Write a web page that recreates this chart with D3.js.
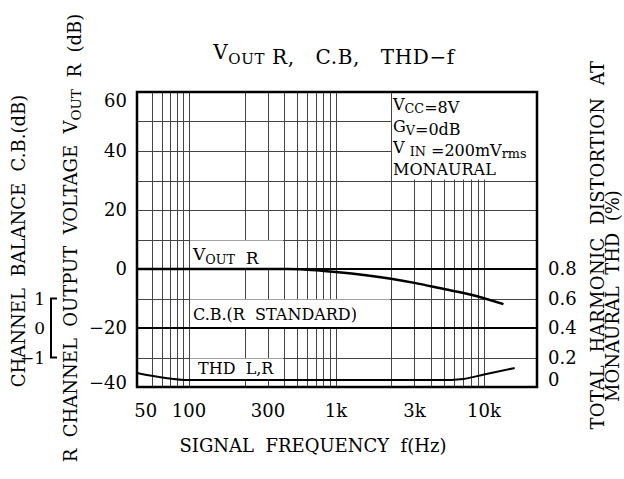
<!DOCTYPE html>
<html>
<head>
<meta charset="utf-8">
<script src="https://cdn.jsdelivr.net/npm/d3@7"></script>
<style>
  html, body { margin: 0; padding: 0; background: #fff; }
  svg text { font-family: "DejaVu Serif", serif; fill: #000; white-space: pre; }
</style>
</head>
<body>
<div id="chart"></div>
<script>
// values
const gridFreqs = [50, 60, 70, 80, 90, 100, 200, 300, 400, 500, 600, 700, 800, 900,
  1000, 2000, 3000, 4000, 5000, 6000, 7000, 8000, 9000, 10000];
const freqTicks = [50, 100, 300, 1000, 3000, 10000];
const freqTickLabels = ["50", "100", "300", "1k", "3k", "10k"];
const dbTicks = [60, 40, 20, 0, -20, -40];
const thdTicks = [0.8, 0.6, 0.4, 0.2, 0];
const cbTicks = [1, 0, -1];

const voutFreq = [38, 100, 200, 420, 700, 1000, 2000, 3000, 5000, 8000, 14000];
const voutDb = [0, 0, 0, 0, -0.4, -1, -3.3, -4.7, -6.8, -8.7, -11.9];

const cbFreq = [38, 25000];
const cbDb = [0, 0];

const thdFreq = [38, 100, 4600, 7000, 10000, 17000];
const thdPct = [0.095, 0.047, 0.047, 0.055, 0.085, 0.129];

const width = 624, height = 479;
const plotLeft = 137, plotRight = 537, plotTop = 92, plotBottom = 387;

const svg = d3.select("#chart").append("svg")
  .attr("width", width)
  .attr("height", height);

// the grid on the sheet is log per decade but the 1-2 steps are drawn wider
const x = d3.scaleLog()
  .domain([38, 100, 200, 1000, 2000, 10000, 25000])
  .range([plotLeft, 189, 245, 336, 391, 484, plotRight]);
const y = d3.scaleLinear().domain([-40, 60]).range([plotBottom, plotTop]);
const yThd = d3.scaleLinear().domain([0, 0.8]).range([plotBottom, y(0)]);
const yCb = d3.scaleLinear().domain([-1, 1]).range([y(-30), y(-10)]);

const grid = svg.append("g").attr("stroke", "#444").attr("stroke-width", 1);

grid.selectAll("line.v")
  .data(gridFreqs)
  .join("line")
  .attr("class", "v")
  .attr("x1", d => Math.round(x(d)) + 0.5).attr("x2", d => Math.round(x(d)) + 0.5)
  .attr("y1", plotTop).attr("y2", plotBottom);

grid.selectAll("line.h")
  .data(d3.range(-30, 60, 10))
  .join("line")
  .attr("class", "h")
  .attr("x1", plotLeft).attr("x2", plotRight)
  .attr("y1", d => Math.round(y(d)) + 0.5).attr("y2", d => Math.round(y(d)) + 0.5);

// blank areas that hold the condition box and the curve names
const blanks = [
  [x(2000) + 1, plotTop, plotRight, y(30) - 1],
  [x(100) + 1, y(10) + 1, x(400) - 1, y(0) - 1],
  [x(100) + 1, y(-10) + 1, x(2000) - 1, y(-20) - 1],
  [x(100) + 1, y(-30) + 1, x(400) - 1, y(-37.5)]
];
svg.append("g").selectAll("rect")
  .data(blanks)
  .join("rect")
  .attr("x", d => d[0]).attr("y", d => d[1])
  .attr("width", d => d[2] - d[0]).attr("height", d => d[3] - d[1])
  .attr("fill", "#fff");

// heavier reference line at 0 dB
svg.append("g").selectAll("line")
  .data([0])
  .join("line")
  .attr("x1", plotLeft).attr("x2", plotRight)
  .attr("y1", d => y(d)).attr("y2", d => y(d))
  .attr("stroke", "#000").attr("stroke-width", 2);

const line = d3.line().curve(d3.curveMonotoneX);

svg.append("path")
  .attr("d", line(voutFreq.map((f, i) => [x(f), y(voutDb[i])])))
  .attr("fill", "none").attr("stroke", "#000").attr("stroke-width", 2.5);

svg.append("path")
  .attr("d", line(cbFreq.map((f, i) => [x(f), yCb(cbDb[i])])))
  .attr("fill", "none").attr("stroke", "#000").attr("stroke-width", 2);

svg.append("path")
  .attr("d", line(thdFreq.map((f, i) => [x(f), yThd(thdPct[i])])))
  .attr("fill", "none").attr("stroke", "#000").attr("stroke-width", 2);

svg.append("rect")
  .attr("x", plotLeft).attr("y", plotTop)
  .attr("width", plotRight - plotLeft).attr("height", plotBottom - plotTop)
  .attr("fill", "none").attr("stroke", "#000").attr("stroke-width", 2.5);

// tick labels (the sheet keeps the end labels inside the frame height)
const clampY = v => Math.max(plotTop + 15, Math.min(plotBottom + 2, v));

svg.append("g").selectAll("text")
  .data(dbTicks)
  .join("text")
  .attr("x", 127).attr("y", d => clampY(y(d) + 6))
  .attr("text-anchor", "end")
  .style("font-size", "18px")
  .text(d => d < 0 ? "\u2212" + Math.abs(d) : d);

svg.append("g").selectAll("text")
  .data(thdTicks)
  .join("text")
  .attr("x", 548).attr("y", d => Math.min(yThd(d) + 6, plotBottom - 1))
  .style("font-size", "18px")
  .text(d => d === 0 ? "0" : d.toFixed(1));

svg.append("g").selectAll("text")
  .data(freqTicks)
  .join("text")
  .attr("x", (d, i) => x(d) - (i === 0 ? 6 : 0))
  .attr("y", 417)
  .attr("text-anchor", "middle")
  .style("font-size", "18px")
  .text((d, i) => freqTickLabels[i]);

// channel balance bracket
svg.append("path")
  .attr("d", `M57,${yCb(1)}H51V${yCb(-1)}H57`)
  .attr("fill", "none").attr("stroke", "#000").attr("stroke-width", 2);
svg.append("g").selectAll("text")
  .data(cbTicks)
  .join("text")
  .attr("x", 45).attr("y", d => yCb(d) + 6)
  .attr("text-anchor", "end")
  .style("font-size", "17px")
  .text(d => d < 0 ? "\u2212" + Math.abs(d) : d);

function subText(sel, parts, shift = 0.3, size = 0.75) {
  parts.forEach(p => {
    if (p.sub) {
      sel.append("tspan").attr("dy", shift + "em").style("font-size", size + "em").text(p.sub);
      sel.append("tspan").attr("dy", -shift + "em").text("");
    } else {
      sel.append("tspan").text(p.t);
    }
  });
  return sel;
}

// title
subText(svg.append("text")
  .attr("x", 334).attr("y", 59)
  .attr("text-anchor", "middle")
  .style("font-size", "20px")
  .style("letter-spacing", "0.6px"),
  [{ t: "V" }, { sub: "OUT" }, { t: " R,   C.B,   THD\u2212f" }]);

svg.append("text")
  .attr("x", 313).attr("y", 452)
  .attr("text-anchor", "middle")
  .style("font-size", "18px")
  .text("SIGNAL  FREQUENCY  f(Hz)");

// rotated axis titles
svg.append("text")
  .attr("transform", "translate(25,241) rotate(-90)")
  .attr("text-anchor", "middle")
  .style("font-size", "18px")
  .text("CHANNEL  BALANCE  C.B.(dB)");

subText(svg.append("text")
  .attr("transform", "translate(77,238) rotate(-90)")
  .attr("text-anchor", "middle")
  .style("font-size", "18px"),
  [{ t: "R  CHANNEL  OUTPUT  VOLTAGE  V" }, { sub: "OUT" }, { t: "  R  (dB)" }]);

svg.append("text")
  .attr("transform", "translate(604,245) rotate(-90)")
  .attr("text-anchor", "middle")
  .style("font-size", "18px")
  .style("letter-spacing", "0.4px")
  .text("TOTAL  HARMONIC  DISTORTION  AT");

svg.append("text")
  .attr("transform", "translate(619,296) rotate(-90)")
  .attr("text-anchor", "middle")
  .style("font-size", "18px")
  .text("MONAURAL  THD  (%)");

// test conditions
const cond = [
  [{ t: "V" }, { sub: "CC" }, { t: "=8V" }],
  [{ t: "G" }, { sub: "V" }, { t: "=0dB" }],
  [{ t: "V " }, { sub: "IN" }, { t: " =200mV" }, { sub: "rms" }],
  [{ t: "MONAURAL" }]
];
const condY = [110, 132, 153, 175];
cond.forEach((parts, i) => {
  subText(svg.append("text")
    .attr("x", 393).attr("y", condY[i])
    .style("font-size", "16px"), parts, 0.2, 0.8);
});

// curve names
subText(svg.append("text").attr("x", 193).attr("y", 260).style("font-size", "17px"),
  [{ t: "V" }, { sub: "OUT" }, { t: "  R" }]);
svg.append("text").attr("x", 193).attr("y", 320).style("font-size", "16px")
  .text("C.B.(R  STANDARD)");
svg.append("text").attr("x", 198).attr("y", 374).style("font-size", "16px")
  .text("THD  L,R");
</script>
</body>
</html>
